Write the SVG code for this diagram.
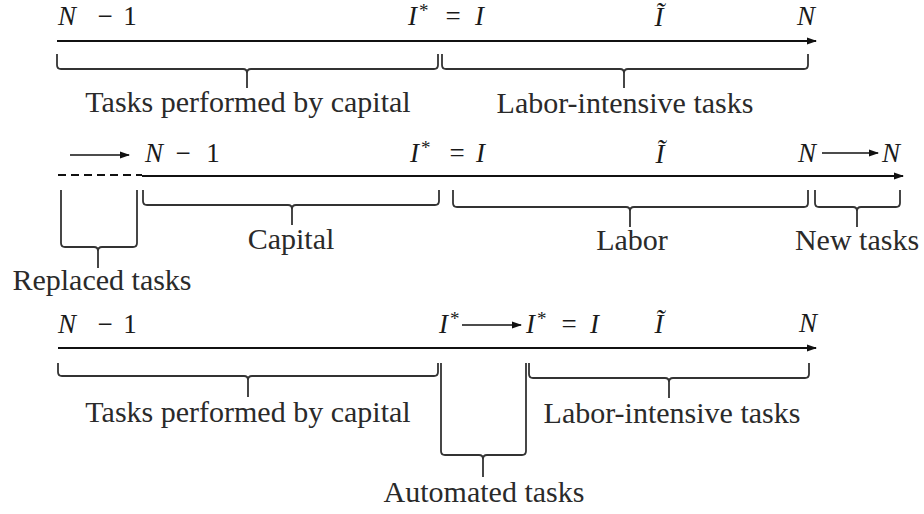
<svg xmlns="http://www.w3.org/2000/svg" width="924" height="514" viewBox="0 0 924 514" font-family="'Times New Roman', 'Liberation Serif', 'DejaVu Serif', Times, serif">
<style>
text{font-family:'Times New Roman','Liberation Serif','DejaVu Serif',Times,serif}
.m{font-size:27px;fill:#1a1a1a}
.i{font-style:italic}
.t{font-size:30px;fill:#2a2a2a;text-anchor:middle}
.br{fill:none;stroke:#333;stroke-width:1.8}
.ax{fill:none;stroke:#111;stroke-width:2.2}
.sa{fill:none;stroke:#111;stroke-width:1.5}
.mid{text-anchor:middle}
.sup{font-size:19px;fill:#1a1a1a}
</style>
<defs>
<marker id="ah" viewBox="0 0 10 8" refX="9" refY="4" markerWidth="10" markerHeight="8" markerUnits="userSpaceOnUse" orient="auto">
<path d="M0,0.5 L10,4 L0,7.5 z" fill="#111"/>
</marker>
</defs>
<rect width="924" height="514" fill="#fff"/>
<g id="connectors">
<line class="ax" x1="57" y1="41" x2="816" y2="41" marker-end="url(#ah)"/>
<line class="ax" x1="58" y1="175" x2="142" y2="175" stroke-dasharray="8,5"/>
<line class="ax" x1="142" y1="176" x2="903" y2="176" marker-end="url(#ah)"/>
<line class="ax" x1="58" y1="348" x2="816" y2="348" marker-end="url(#ah)"/>
<line class="sa" x1="70" y1="155" x2="129" y2="155" marker-end="url(#ah)"/>
<line class="sa" x1="822" y1="153" x2="878" y2="153" marker-end="url(#ah)"/>
<line class="sa" x1="462" y1="325" x2="521" y2="325" marker-end="url(#ah)"/>
</g>
<g id="row1-labels">
<text class="m i" x="58" y="25">N</text><text class="m mid" x="105" y="25">−</text><text class="m mid" x="130" y="25">1</text>
<text class="m i" x="408" y="25">I</text><text class="sup" x="419" y="17">*</text><text class="m mid" x="453" y="25">=</text><text class="m i" x="475" y="25">I</text>
<text class="m i mid" x="659" y="26">Ĩ</text>
<text class="m i mid" x="806" y="25">N</text>
</g>
<g id="row1-capital">
<path class="br" d="M57 54 V65 Q57 69 61 69 H243 Q247 69 247 73 V88 M438 54 V65 Q438 69 434 69 H251 Q247 69 247 73"/>
<text class="t" x="248" y="112">Tasks performed by capital</text>
</g>
<g id="row1-labor">
<path class="br" d="M442 54 V65 Q442 69 446 69 H620 Q624 69 624 73 V88 M808 54 V65 Q808 69 804 69 H628 Q624 69 624 73"/>
<text class="t" x="625" y="113">Labor-intensive tasks</text>
</g>
<g id="row2-labels">
<text class="m i" x="145" y="162">N</text><text class="m mid" x="183" y="162">−</text><text class="m mid" x="213" y="162">1</text>
<text class="m i" x="410" y="162">I</text><text class="sup" x="421" y="154">*</text><text class="m mid" x="457" y="162">=</text><text class="m i" x="476" y="162">I</text>
<text class="m i mid" x="660" y="163">Ĩ</text>
<text class="m i mid" x="807" y="162">N</text>
<text class="m i mid" x="891" y="162">N</text>
</g>
<g id="row2-replaced">
<path class="br" d="M61 190 V243 Q61 247 65 247 H94 Q98 247 98 251 V268 M137 190 V243 Q137 247 133 247 H102 Q98 247 98 251"/>
<text class="t" x="102" y="290">Replaced tasks</text>
</g>
<g id="row2-capital">
<path class="br" d="M143 190 V201 Q143 205 147 205 H288 Q292 205 292 209 V225 M439 190 V201 Q439 205 435 205 H296 Q292 205 292 209"/>
<text class="t" x="291" y="249">Capital</text>
</g>
<g id="row2-labor">
<path class="br" d="M453 190 V203 Q453 207 457 207 H626 Q630 207 630 211 V227 M808 190 V203 Q808 207 804 207 H634 Q630 207 630 211"/>
<text class="t" x="632" y="250">Labor</text>
</g>
<g id="row2-new">
<path class="br" d="M815 190 V203 Q815 207 819 207 H853 Q857 207 857 211 V227 M900 190 V203 Q900 207 896 207 H861 Q857 207 857 211"/>
<text class="t" x="857" y="250">New tasks</text>
</g>
<g id="row3-labels">
<text class="m i" x="58" y="333">N</text><text class="m mid" x="105" y="333">−</text><text class="m mid" x="130" y="333">1</text>
<text class="m i" x="439" y="333">I</text><text class="sup" x="450" y="325">*</text>
<text class="m i" x="526" y="333">I</text><text class="sup" x="537" y="325">*</text><text class="m mid" x="569" y="333">=</text><text class="m i" x="590" y="333">I</text>
<text class="m i mid" x="659" y="333">Ĩ</text>
<text class="m i mid" x="808" y="332">N</text>
</g>
<g id="row3-capital">
<path class="br" d="M58 363 V372 Q58 376 62 376 H244 Q248 376 248 380 V397 M438 363 V372 Q438 376 434 376 H252 Q248 376 248 380"/>
<text class="t" x="248" y="422">Tasks performed by capital</text>
</g>
<g id="row3-automated">
<path class="br" d="M441 363 V451 Q441 455 445 455 H479 Q483 455 483 459 V477 M526 363 V451 Q526 455 522 455 H487 Q483 455 483 459"/>
<text class="t" x="484" y="502">Automated tasks</text>
</g>
<g id="row3-labor">
<path class="br" d="M529 363 V374 Q529 378 533 378 H665 Q669 378 669 382 V398 M809 363 V374 Q809 378 805 378 H673 Q669 378 669 382"/>
<text class="t" x="672" y="423">Labor-intensive tasks</text>
</g>
</svg>
